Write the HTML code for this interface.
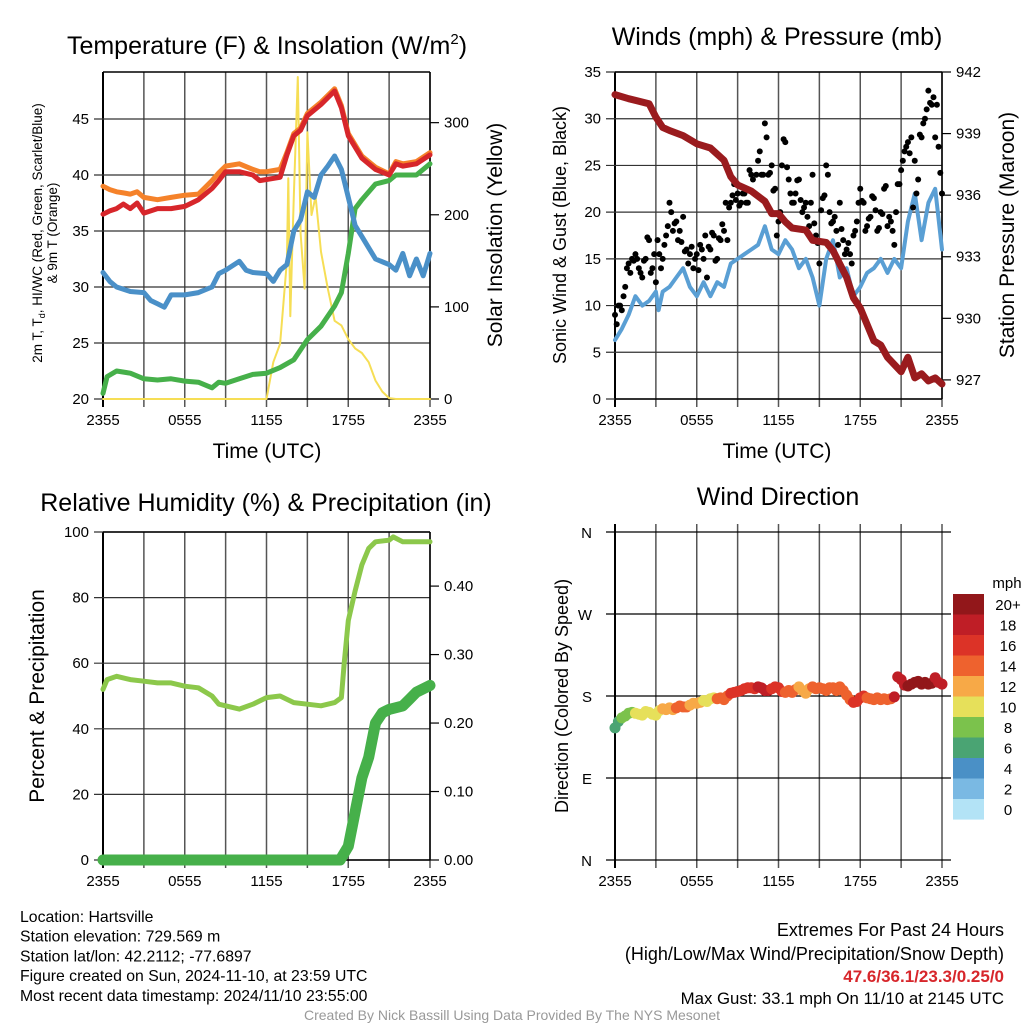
<!DOCTYPE html>
<html><head><meta charset="utf-8"><style>
html,body{margin:0;padding:0;background:#fff;width:1024px;height:1024px;overflow:hidden}
svg{display:block;font-family:"Liberation Sans",sans-serif}
</style></head><body>
<svg id="s" width="1024" height="1024" viewBox="0 0 1024 1024"></svg>
<script>
// ---- data (hours since 2355) ----
const tempH=[0,0.5,1,1.5,2,2.5,3,4,5,6,7,8,8.5,9,10,11,11.5,12,13,13.5,14,14.5,15,16,17,17.5,18,19,20,21,21.5,22,23,24];
const tempT=[36.5,36.8,37,37.4,37,37.5,36.6,37,37,37.2,37.8,38.8,39.5,40.3,40.3,40,39.5,39.6,39.8,41.8,43.5,44,45.3,46.3,47.5,46,43.5,41.5,40.5,40,41,40.8,41,41.8];
const tempO=[39,38.7,38.5,38.4,38.3,38.5,38,37.8,38,38.2,38.3,39.5,40.2,40.8,41,40.5,40.3,40.3,40.5,42,43.7,44.2,45.5,46.5,47.7,46.2,43.7,41.7,40.7,40.1,41.2,41,41.2,42];
const tdH=[0,0.5,1,2,3,3.5,4,4.5,5,6,7,8,8.5,9,10,10.5,11,12,12.5,13,13.5,14,14.5,15,15.5,16,16.5,17,17.5,18,18.5,19,19.5,20,21,21.5,22,22.5,23,23.5,24];
const tdV=[31.3,30.5,30,29.6,29.5,28.8,28.5,28.2,29.3,29.3,29.5,30,31.2,31.5,32.3,31.5,31.3,31.2,30.5,31.5,32,35,36,38.5,38,40,40.8,41.7,40.5,38,35.5,34.5,33.5,32.5,32,31.5,33,31,32.5,31,33];
const wcH=[0,0.3,1,2,3,4,5,6,7,8,8.5,9,10,11,12,13,14,15,16,17,17.5,18,18.5,19,20,21,21.5,22,23,24];
const wcV=[20.5,22,22.5,22.3,21.8,21.7,21.8,21.6,21.5,21,21.5,21.4,21.8,22.2,22.3,22.8,23.5,25.3,26.5,28.3,29.5,33,37,37.8,39.2,39.5,40,40,40,41];
const solH=[0,12,12.5,13,13.5,13.6,13.75,14,14.3,14.5,14.8,15,15.3,15.6,16,16.5,17,17.5,18,18.5,19,19.5,20,20.5,21,21.5,24];
const solV=[0,0,40,60,150,240,90,220,350,180,120,290,200,220,160,120,85,80,65,55,50,40,20,8,1,0,0];
const presH=[0,1,2.5,3,3.5,4,5,6,7,8,8.5,9,10,11,11.5,12,12.5,13,14,14.5,15.5,16,17,17.5,18,18.5,19,19.5,20,21,21.5,22,22.5,23,23.5,24];
const presV=[940.9,940.7,940.45,939.8,939.3,939.15,938.9,938.5,938.3,937.7,936.9,936.5,936.2,935.7,935.1,935.1,934.7,934.4,934.3,933.8,933.7,933.3,932,931,930.5,929.7,928.9,928.7,928.1,927.4,928.1,927.1,927.3,926.95,927.1,926.8];
const windH=[0,0.5,1,1.5,2,2.5,3,3.2,3.5,4,4.5,5,5.5,6,6.5,7,7.5,8,8.5,9,9.5,10,10.5,11,11.5,12,12.5,13,13.5,14,14.5,15,15.5,16,16.5,17,17.5,18,18.5,19,19.5,20,20.5,21,21.5,22,22.5,23,23.5,24];
const windV=[6.3,7.5,9,11,10,10.5,11.5,9.5,11.5,12,13,14,12,11,12.5,11,12.5,12,14.5,15,15.5,16,16.5,18.5,16,15.5,17,16,14,15,13,10,15,17,13,14,11,12,13.5,14,15,13.5,15,14,19,22,17,21,22.5,16];
const gustV=[9,10,9.5,12,14.5,15,15.5,14,13,15,17,14,12.5,15.5,15,17.5,21,18,19,18,19.5,16,15.5,14,15.5,16.5,15,13,16,17.5,15,17,18,17,21,23,22,21,22,21,24,22,25.5,24,29.5,24,25,22.5,19,25,27.5,23.5,21,22,23.5,20,21,18.5,24,17.5,14.5,21.5,25,20,19,18,21,17,16,15.5,17.5,19,22.5,21,18.5,19.5,21.5,18,20,22.5,18.5,19,16.5,23,24.5,26.5,27.5,28,25.5,23.5,28,30,33,31.5,28,27,22];
const gust2V=[8,10,11,14,13.5,14.8,15,13.5,14.8,17.3,13.5,15.5,17,14,16.5,18.5,20,18.8,17,16.8,15.8,14.5,16.3,15,13.8,16,17.5,16.3,17.8,14.8,17.2,18.7,21,20.5,21.8,21.3,20.7,22,21,24.5,23.5,24,26.5,24,28,24.2,22.3,17.5,20,27.8,24.8,22,21,23.4,21.3,20.5,19.5,21,18.8,16.7,20.2,21.8,24,18.8,19.5,16.5,18.2,15.5,16.7,14.5,18,21,21.2,18,19.3,21.7,20.2,18.3,19.8,22.8,19.5,18,20,23,25.5,27,26.3,20.5,22,28.3,29.5,31,31.7,32.3,31.5,24.2];
const gustStep=0.25;
const rhH=[0,0.3,1,2,3,4,5,6,7,8,8.5,9,10,11,12,13,14,15,16,17,17.5,17.7,18,18.5,19,19.5,20,21,21.3,22,23,24];
const rhV=[52,55,56,55,54.5,54,54,53,52.5,50,47.5,47,46,47.5,49.5,50,48,47.5,47,48,49.5,60,73,82,90,95,97,97.5,98.5,97,97,97];
const prH=[0,17.4,18,18.5,19,19.5,20,20.5,21,22,22.5,23,24];
const prV=[0,0,0.02,0.07,0.12,0.15,0.2,0.215,0.22,0.225,0.235,0.245,0.255];
const dirV=[145,152,156,158,161,162,161,160,159,163,162,160,159,164,166,165,167,165,167,169,168,168,170,172,172,173,175,174,177,178,177,178,176,180,183,184,185,186,188,189,189,188,190,189,186,186,188,190,189,185,184,186,184,187,190,186,183,188,190,188,189,188,186,189,189,186,190,186,181,176,173,174,178,180,178,177,176,178,176,177,176,177,179,201,198,192,191,193,195,196,193,195,193,194,200,195,193];
const spdV=[7,9,10,10.5,13,14,12,11,14,16,17,18,17,15,13,14,15,14,16,15,14,19,21,20,19];
const cbLabels=["20+","18","16","14","12","10","8","6","4","2","0"];
const cbColors=["#92171a","#bf1e26","#dc3327","#ee622e","#f7a947","#e6e05a","#7bc24c","#4aa473","#4a90c6","#7ab9e3","#b3e3f6"];
const xTickLabels=["2355","0555","1155","1755","2355"];

const S=document.getElementById('s');
const NS='http://www.w3.org/2000/svg';
function el(tag,attrs,parent){const e=document.createElementNS(NS,tag);for(const k in attrs)e.setAttribute(k,attrs[k]);(parent||S).appendChild(e);return e;}
function txt(x,y,s,size,anchor,name,extra){const t=el('text',Object.assign({x:x,y:y,'font-size':size,'text-anchor':anchor||'middle',fill:'#000'},extra||{}));t.textContent=s;


return t;}
function mkPanel(x0,x1,y0,y1,ylo,yhi,name){
  const g=el('g',{});
  
  
  return {g:g,x:h=>x0+h/24*(x1-x0),y:v=>y1-(v-ylo)/(yhi-ylo)*(y1-y0),x0,x1,y0,y1};
}
function grid(p,vals,labels,fmt,rightTicks,rLo,rHi,rLabels,topBorder){
  for(let h=0;h<=24;h+=3){const X=p.x(h);const l=el('line',{x1:X,y1:topBorder?p.y0:p.y0-8,x2:X,y2:p.y1+8,stroke:h==0?'#000':'#555','stroke-width':h==0?2:1.5},p.g);
    
    }
  vals.forEach((v,i)=>{const Y=p.y(v);const l=el('line',{x1:p.x0-9,y1:Y,x2:p.x1+(rightTicks?0:9),y2:Y,stroke:'#333','stroke-width':1.2},p.g);
    
    
    txt(p.x0-14,Y+5,labels[i],15,'end','y-tick-label');});
  if(topBorder){el('line',{x1:p.x0,y1:p.y0,x2:p.x1,y2:p.y0,stroke:'#000','stroke-width':1.5},p.g);
    el('line',{x1:p.x1,y1:p.y0,x2:p.x1,y2:p.y1,stroke:'#000','stroke-width':1.5},p.g);}
  el('line',{x1:p.x0,y1:p.y1,x2:p.x1,y2:p.y1,stroke:'#000','stroke-width':1.5},p.g);
  xTickLabels.forEach((s,i)=>txt(p.x(i*6),p.y1+26,s,15,'middle','x-tick-label'));
  if(rightTicks){rightTicks.forEach((v,i)=>{const Y=p.y1-(v-rLo)/(rHi-rLo)*(p.y1-p.y0);
    el('line',{x1:p.x1,y1:Y,x2:p.x1+9,y2:Y,stroke:'#000','stroke-width':1.2},p.g);
    txt(p.x1+14,Y+5,rLabels[i],15,'start','right-tick-label');});}
}
function poly(p,hs,vs,yf,color,w,name){const pts=hs.map((h,i)=>p.x(h).toFixed(1)+','+yf(vs[i]).toFixed(1)).join(' ');
  const e=el('polyline',{points:pts,fill:'none',stroke:color,'stroke-width':w,'stroke-linejoin':'round','stroke-linecap':'round'},p.g);
  
  
  return e;}

// ---- Panel 1 ----
const p1=mkPanel(103,430,72,399,20,49.2,'temperature-panel');
grid(p1,[20,25,30,35,40,45],['20','25','30','35','40','45'],null,[0,100,200,300],0,355,['0','100','200','300'],true);
const sy=v=>399-v*0.92;
poly(p1,solH,solV,sy,'#f6de55',2,'solar-insolation-line');
poly(p1,wcH,wcV,p1.y,'#46b04a',5,'wind-chill-line');
poly(p1,tdH,tdV,p1.y,'#4a90c8',5,'dewpoint-line');
poly(p1,tempH,tempO,p1.y,'#f5822a',5,'temp-9m-line');
poly(p1,tempH,tempT,p1.y,'#d7262b',5,'temp-2m-line');
txt(267,54,'Temperature (F) & Insolation (W/m',25,'middle','temp-panel-title').innerHTML='Temperature (F) &amp; Insolation (W/m<tspan font-size="15" dy="-10">2</tspan><tspan dy="10">)</tspan>';
txt(267,458,'Time (UTC)',21,'middle','x-axis-title');
txt(0,0,'Solar Insolation (Yellow)',21,'middle','right-axis-title',{transform:'translate(502,235) rotate(-90)'});
txt(0,0,'',13.5,'middle','left-axis-title',{transform:'translate(42,233) rotate(-90)'}).innerHTML='2m T, T<tspan font-size="9" dy="3">d</tspan><tspan dy="-3">, HI/WC (Red, Green, Scarlet/Blue)</tspan>';
txt(0,0,'& 9m T (Orange)',13.5,'middle','left-axis-title-line2',{transform:'translate(57,233) rotate(-90)'});

// ---- Panel 2 ----
const p2=mkPanel(615,942,72,399,0,35,'winds-panel');
grid(p2,[0,5,10,15,20,25,30,35],['0','5','10','15','20','25','30','35'],null,[927,930,933,936,939,942],926.07,942,['927','930','933','936','939','942'],true);
poly(p2,windH,windV,p2.y,'#5a9fd4',4,'sonic-wind-line');
gustV.forEach((v,i)=>{const c=el('circle',{cx:p2.x(i*gustStep),cy:p2.y(v),r:3,fill:'#000'},p2.g);
  
  });
gust2V.forEach((v,i)=>{const c=el('circle',{cx:p2.x(0.125+i*gustStep),cy:p2.y(v),r:3,fill:'#000'},p2.g);
  
  });
const py=v=>399-(v-926.07)/(942-926.07)*327;
poly(p2,presH,presV,py,'#9a1b1e',7,'pressure-line');
txt(777,45,'Winds (mph) & Pressure (mb)',25,'middle','winds-panel-title');
txt(777,458,'Time (UTC)',21,'middle','x-axis-title-2');
txt(0,0,'Sonic Wind & Gust (Blue, Black)',18,'middle','left-axis-title-2',{transform:'translate(566,235) rotate(-90)'});
txt(0,0,'Station Pressure (Maroon)',21,'middle','right-axis-title-2',{transform:'translate(1014,235) rotate(-90)'});

// ---- Panel 3 ----
const p3=mkPanel(103,430,532,860,0,100,'humidity-panel');
grid(p3,[0,20,40,60,80,100],['0','20','40','60','80','100'],null,[0,0.1,0.2,0.3,0.4],0,0.479,['0.00','0.10','0.20','0.30','0.40'],true);
poly(p3,rhH,rhV,p3.y,'#8cc84b',5,'relative-humidity-line');
const pry=v=>860-v/0.479*328;
poly(p3,prH,prV,pry,'#46b04a',11,'precipitation-line');
txt(266,511,'Relative Humidity (%) & Precipitation (in)',25,'middle','humidity-panel-title');
txt(0,0,'Percent & Precipitation',21,'middle','left-axis-title-3',{transform:'translate(44,696) rotate(-90)'});

// ---- Panel 4 ----
const p4=mkPanel(615,942,532,860,0,360,'wind-direction-panel');
for(let h=0;h<=24;h+=3){const X=p4.x(h);const l=el('line',{x1:X,y1:p4.y0-8,x2:X,y2:p4.y1+8,stroke:h==0?'#000':'#555','stroke-width':h==0?2:1.5},p4.g);
  
  }
['N','E','S','W','N'].forEach((s,i)=>{const Y=p4.y(i*90);const l=el('line',{x1:606,y1:Y,x2:951,y2:Y,stroke:'#000','stroke-width':1.2},p4.g);
  
  
  txt(592,Y+6,s,15,'end','direction-tick-label');});
xTickLabels.forEach((s,i)=>txt(p4.x(i*6),p4.y1+26,s,15,'middle','x-tick-label'));
function spdColor(v){const b=Math.min(10,Math.floor(v/2));return cbColors[10-b];}
dirV.forEach((d,i)=>{const h=i*0.25;const sp=spdV[Math.min(spdV.length-1,Math.round(h))];
  const c=el('circle',{cx:p4.x(h),cy:p4.y(d),r:5.5,fill:spdColor(sp)},p4.g);
  
  });
txt(778,505,'Wind Direction',25,'middle','wind-direction-title');
txt(0,0,'Direction (Colored By Speed)',18,'middle','left-axis-title-4',{transform:'translate(568,696) rotate(-90)'});
txt(1007,588,'mph',15,'middle','colorbar-unit');
cbColors.forEach((c,i)=>{const r=el('rect',{x:953,y:594+i*20.5,width:31,height:20.6,fill:c});
  
  
  txt(1008,594+i*20.5+16,cbLabels[i],15,'middle','colorbar-label');});

// ---- footer ----
['Location: Hartsville','Station elevation: 729.569 m','Station lat/lon: 42.2112; -77.6897','Figure created on Sun, 2024-11-10, at 23:59 UTC','Most recent data timestamp: 2024/11/10 23:55:00'].forEach((s,i)=>txt(20,922+i*19.7,s,15.8,'start','station-info-line'));
txt(1004,936,'Extremes For Past 24 Hours',18,'end','extremes-title');
txt(1004,960,'(High/Low/Max Wind/Precipitation/Snow Depth)',18,'end','extremes-legend');
txt(1004,982,'47.6/36.1/23.3/0.25/0',17,'end','extremes-values',{fill:'#d7262b','font-weight':'bold'});
txt(1004,1004,'Max Gust: 33.1 mph On 11/10 at 2145 UTC',16.8,'end','max-gust');
txt(512,1020,'Created By Nick Bassill Using Data Provided By The NYS Mesonet',14,'middle','credit-line',{fill:'#999'});
</script>
</body></html>
